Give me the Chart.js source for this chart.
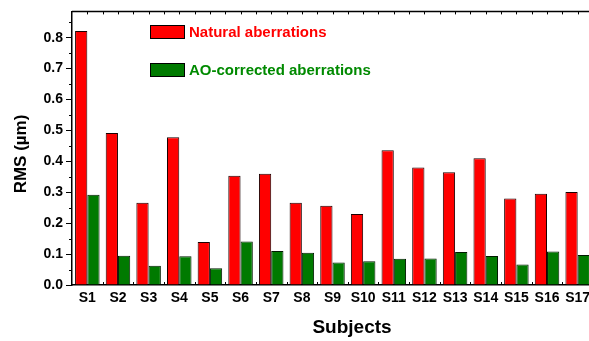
<!DOCTYPE html>
<html>
<head>
<meta charset="utf-8">
<script src="https://cdn.jsdelivr.net/npm/chart.js@4/dist/chart.umd.min.js"></script>
<style>
  html, body { margin: 0; padding: 0; background: #fff; overflow: hidden; }
  #wrap { width: 589px; height: 341px; overflow: hidden; }
  canvas { display: block; }
</style>
</head>
<body>
<div id="wrap"><canvas id="c" width="600" height="341"></canvas></div>
<script>
// Subjects and RMS wavefront error (µm) per subject
const subjects = ['S1','S2','S3','S4','S5','S6','S7','S8','S9','S10','S11','S12','S13','S14','S15','S16','S17'];
const naturalRms = [0.822, 0.492, 0.266, 0.478, 0.139, 0.353, 0.360, 0.266, 0.256, 0.230, 0.436, 0.380, 0.365, 0.410, 0.280, 0.295, 0.301];
const correctedRms = [0.292, 0.095, 0.062, 0.093, 0.054, 0.141, 0.110, 0.104, 0.073, 0.077, 0.085, 0.086, 0.107, 0.094, 0.066, 0.108, 0.097];
const yTicks = [0.0, 0.1, 0.2, 0.3, 0.4, 0.5, 0.6, 0.7, 0.8];
const yMinorTicks = [0.05, 0.15, 0.25, 0.35, 0.45, 0.55, 0.65, 0.75, 0.85];

const FONT = '"Liberation Sans", Arial, Helvetica, sans-serif';
const RED = '#ff0000';
const GREEN = '#007a00';

// Frame, minor ticks, in-plot legend and axis titles
const decorations = {
  id: 'decorations',
  afterDraw(chart) {
    const { ctx, chartArea: a, scales } = chart;
    const y = scales.y;
    ctx.save();
    ctx.strokeStyle = '#000';

    // top and right frame
    ctx.lineWidth = 1.5;
    ctx.beginPath();
    ctx.moveTo(a.left, a.top);
    ctx.lineTo(a.right, a.top);
    ctx.lineTo(a.right, a.bottom);
    ctx.stroke();

    ctx.lineWidth = 1;
    // minor ticks on the value axis
    ctx.beginPath();
    yMinorTicks.forEach(v => {
      const py = Math.round(y.getPixelForValue(v)) + 0.5;
      if (py > a.top) { ctx.moveTo(a.left - 3, py); ctx.lineTo(a.left, py); }
    });
    // ticks along the top edge: category boundaries and centres
    const n = subjects.length;
    const step = (a.right - a.left) / n;
    for (let k = 1; k < 2 * n; k++) {
      const px = Math.round(a.left + k * step / 2) + 0.5;
      ctx.moveTo(px, a.top); ctx.lineTo(px, a.top + 3);
    }
    // ticks along the bottom edge at category boundaries
    for (let k = 1; k < n; k++) {
      const px = Math.round(a.left + k * step) + 0.5;
      ctx.moveTo(px, a.bottom); ctx.lineTo(px, a.bottom - 3);
    }
    ctx.stroke();

    // legend inside the plot
    const items = chart.data.datasets;
    const boxTops = [25, 63];
    ctx.font = 'bold 15px ' + FONT;
    ctx.textBaseline = 'middle';
    ctx.textAlign = 'left';
    items.forEach((ds, i) => {
      const by = boxTops[i];
      ctx.fillStyle = ds.backgroundColor;
      ctx.fillRect(150, by, 35, 14);
      ctx.strokeStyle = '#000';
      ctx.lineWidth = 1;
      ctx.strokeRect(150.5, by + 0.5, 34, 13);
      ctx.fillStyle = ds.legendText;
      ctx.fillText(ds.label, 189, by + 7.5);
    });

    // axis titles
    ctx.fillStyle = '#000';
    ctx.font = 'bold 19px ' + FONT;
    ctx.textAlign = 'center';
    ctx.fillText('Subjects', 352, 328);
    ctx.translate(21, 154);
    ctx.rotate(-Math.PI / 2);
    ctx.font = 'bold 17px ' + FONT;
    ctx.fillText('RMS (\u00b5m)', 0, 0);
    ctx.restore();
  }
};

new Chart(document.getElementById('c'), {
  type: 'bar',
  data: {
    labels: subjects,
    datasets: [
      {
        label: 'Natural aberrations',
        data: naturalRms,
        backgroundColor: RED,
        legendText: RED,
        borderColor: '#1a0000',
        borderWidth: 1,
        categoryPercentage: 0.8,
        barPercentage: 1.0
      },
      {
        label: 'AO-corrected aberrations',
        data: correctedRms,
        backgroundColor: GREEN,
        legendText: '#008a00',
        borderColor: '#001a00',
        borderWidth: 1,
        categoryPercentage: 0.8,
        barPercentage: 1.0
      }
    ]
  },
  options: {
    responsive: false,
    animation: false,
    devicePixelRatio: 1,
    layout: { padding: { top: 9, right: 7, left: 0, bottom: 0 } },
    plugins: { legend: { display: false }, tooltip: { enabled: false } },
    scales: {
      x: {
        grid: { display: false, drawTicks: false },
        border: { display: true, color: '#000', width: 1.5 },
        ticks: {
          color: '#000',
          font: { family: FONT, size: 14, weight: 'bold' },
          padding: 5,
          maxRotation: 0,
          autoSkip: false
        },
        afterFit(s) { s.height = 56; }
      },
      y: {
        min: 0,
        max: 0.885,
        afterBuildTicks(s) { s.ticks = yTicks.map(v => ({ value: v })); },
        grid: { drawOnChartArea: false, drawTicks: true, tickLength: 6, color: '#000', lineWidth: 1 },
        border: { display: true, color: '#000', width: 1.5 },
        ticks: {
          color: '#000',
          font: { family: FONT, size: 14, weight: 'bold' },
          padding: 3,
          callback: v => Number(v).toFixed(1)
        },
        afterFit(s) { s.width = 72; }
      }
    }
  },
  plugins: [decorations]
});
</script>
</body>
</html>
